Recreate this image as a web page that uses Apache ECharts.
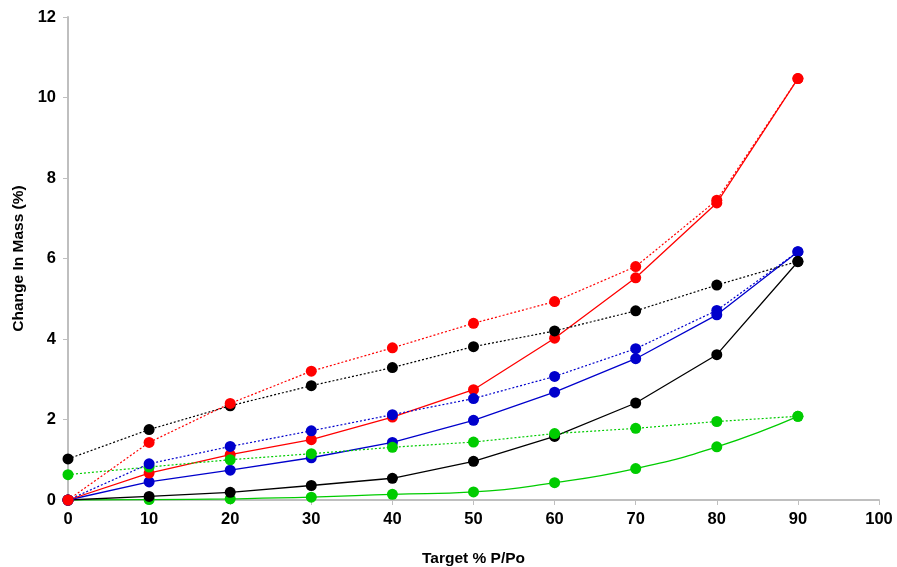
<!DOCTYPE html>
<html>
<head>
<meta charset="utf-8">
<script src="https://cdn.jsdelivr.net/npm/echarts@6/dist/echarts.min.js"></script>
<style>html,body{margin:0;padding:0;background:#fff}#c{width:897px;height:567px}</style>
</head>
<body>
<div id="c"></div>
<script>
const xValues = [0, 10, 20, 30, 40, 50, 60, 70, 80, 90];
const redDotted   = [0, 1.43, 2.40, 3.20, 3.78, 4.39, 4.93, 5.80, 7.45, 10.47];
const redSolid    = [0, 0.67, 1.13, 1.50, 2.06, 2.74, 4.02, 5.52, 7.38, 10.47];
const blackDotted = [1.02, 1.75, 2.34, 2.84, 3.29, 3.81, 4.20, 4.70, 5.34, 5.93];
const blackSolid  = [0, 0.09, 0.19, 0.36, 0.54, 0.96, 1.58, 2.41, 3.61, 5.92];
const blueDotted  = [0, 0.90, 1.33, 1.72, 2.12, 2.52, 3.07, 3.76, 4.71, 6.17];
const blueSolid   = [0, 0.45, 0.74, 1.05, 1.43, 1.98, 2.68, 3.51, 4.60, 6.17];
const greenDotted = [0.63, 0.82, 1.00, 1.15, 1.31, 1.44, 1.65, 1.78, 1.95, 2.08];
const greenSolid  = [0, 0.01, 0.03, 0.07, 0.14, 0.20, 0.43, 0.78, 1.32, 2.08];

function pairs(arr){ return xValues.map((x,i)=>[x, arr[i]]); }
function mk(name, data, color, dotted, smooth){
  return {
    name, type:'line', data: pairs(data), smooth: !!smooth,
    symbol:'circle', symbolSize: 11,
    itemStyle:{color},
    lineStyle:{color, width: dotted?1.2:1.3, type: dotted?[2,2]:'solid'},
    z: dotted?3:2
  };
}
const chart = echarts.init(document.getElementById('c'), null, {renderer:'canvas'});
const font = 'Liberation Sans, Arial, sans-serif';
chart.setOption({
  animation:false,
  grid:{left:68, right:18, top:17, bottom:67, containLabel:false, outerBoundsMode:'none'},
  xAxis:{
    type:'value', min:0, max:100, interval:10,
    name:'Target % P/Po', nameLocation:'middle', nameGap:51,
    nameTextStyle:{fontFamily:font, fontWeight:'bold', fontSize:15.5, color:'#000'},
    axisLine:{lineStyle:{color:'#bfbfbf', width:2}},
    axisTick:{show:true, length:5, lineStyle:{color:'#bfbfbf', width:1}},
    axisLabel:{fontFamily:font, fontWeight:'bold', fontSize:16.5, color:'#000', margin:11},
    splitLine:{show:false}
  },
  yAxis:{
    type:'value', min:0, max:12, interval:2,
    name:'Change In Mass (%)', nameLocation:'middle', nameGap:41, nameRotate:90,
    nameTextStyle:{fontFamily:font, fontWeight:'bold', fontSize:15.5, color:'#000'},
    axisLine:{show:true, lineStyle:{color:'#bfbfbf', width:2}},
    axisTick:{show:true, length:5, lineStyle:{color:'#bfbfbf', width:1}},
    axisLabel:{fontFamily:font, fontWeight:'bold', fontSize:16.5, color:'#000', margin:12},
    splitLine:{show:false}
  },
  series:[
    mk('Green solid', greenSolid, '#00cc00', false, true),
    mk('Black solid', blackSolid, '#000000', false),
    mk('Blue solid', blueSolid, '#0000cc', false),
    mk('Red solid', redSolid, '#ff0000', false),
    mk('Green dotted', greenDotted, '#00cc00', true),
    mk('Blue dotted', blueDotted, '#0000cc', true),
    mk('Black dotted', blackDotted, '#000000', true),
    mk('Red dotted', redDotted, '#ff0000', true)
  ]
});
</script>
</body>
</html>
